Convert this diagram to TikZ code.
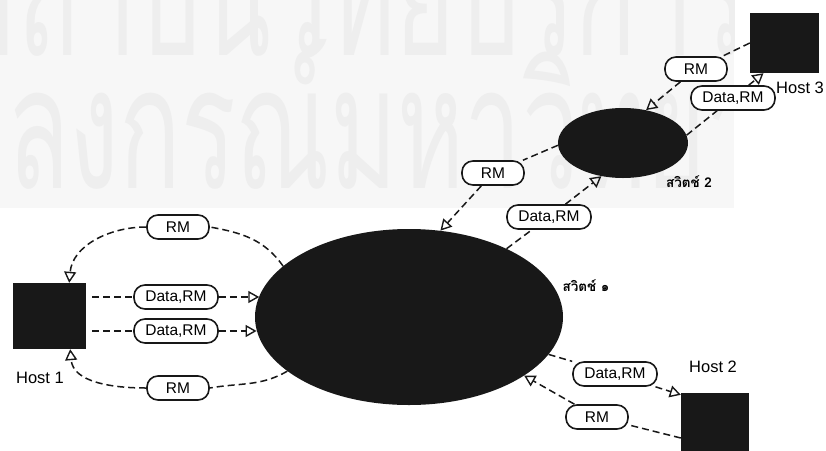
\documentclass[tikz,border=0pt]{standalone}
\usepackage{fontspec}
\usepackage{graphicx}
\setmainfont{Liberation Sans}
\newfontfamily\thaifont[Script=Thai]{Loma}
\usetikzlibrary{arrows.meta,shapes.geometric,calc}

\definecolor{ink}{RGB}{24,24,24}
\definecolor{wmbg}{RGB}{247,247,247}
\definecolor{wmtext}{RGB}{238,238,238}

\tikzset{
  blob/.style={ellipse, fill=ink, draw=none, inner sep=0pt},
  hostbox/.style={rectangle, fill=ink, draw=none, inner sep=0pt},
  pill/.style={draw=ink, fill=white, line width=1.6pt, rounded corners=11pt,
    minimum height=24pt, inner sep=0pt, font=\fontsize{15.5}{15.5}\selectfont},
  rmtag/.style={pill, minimum width=62pt},
  dtag/.style={pill, minimum width=84pt},
  link/.style={draw=ink, line width=1.5pt, dash pattern=on 7pt off 4pt},
  arr/.style={link, -{Triangle[open, length=11pt, width=12pt, line width=1.4pt]}},
  hostlbl/.style={font=\fontsize{16.5}{16.5}\selectfont, inner sep=0pt},
  swlbl/.style={font=\thaifont\bfseries\fontsize{13.5}{13.5}\selectfont, inner sep=0pt},
  wmark/.style={anchor=base west, inner sep=0pt, text=wmtext,
    font=\thaifont\fontsize{170}{170}\selectfont},
}

\begin{document}
\begin{tikzpicture}[x=1pt,y=1pt]
\useasboundingbox (0,0) rectangle (826,-450);
\clip (0,0) rectangle (826,-450);

% faint library stamp in the upper left
\begin{scope}
  \fill[wmbg] (0,0) rectangle (734,-208);
  \clip (0,0) rectangle (734,-208);
  \node[wmark] (wm1) at (-45,-55) {\scalebox{0.6}[1]{สถาบันวิทยบริการ}};
  \node[wmark] (wm2) at (-180,-188) {\scalebox{0.6}[1]{จุฬาลงกรณ์มหาวิทยาลัย}};
\end{scope}

% switches
\node[blob, minimum width=308pt, minimum height=176pt] (s1) at (409,-317) {};
\node[blob, minimum width=130pt, minimum height=70pt] (s2) at (623,-143) {};

% hosts
\node[hostbox, minimum width=73pt, minimum height=66pt] (h1) at (49.5,-316) {};
\node[hostbox, minimum width=68pt, minimum height=68pt] (h2) at (715,-427) {};
\node[hostbox, minimum width=69pt, minimum height=60pt] (h3) at (784.5,-43) {};

\node[hostlbl] (h1l) at (40,-378) {Host 1};
\node[hostlbl] (h2l) at (713,-367) {Host 2};
\node[hostlbl] (h3l) at (800,-88) {Host 3};
\node[swlbl] (s1l) at (586,-286) {สวิตช์ ๑};
\node[swlbl] (s2l) at (689,-182) {สวิตช์ 2};

% message tags
\node[rmtag] (rm1) at (178,-227) {RM};
\node[dtag]  (d1)  at (176,-297) {Data,RM};
\node[dtag]  (d2)  at (176,-331) {Data,RM};
\node[rmtag] (rm2) at (178,-388) {RM};
\node[rmtag] (rm3) at (696,-69) {RM};
\node[dtag]  (d3)  at (733,-98) {Data,RM};
\node[rmtag] (rm4) at (493,-173) {RM};
\node[dtag]  (d4)  at (549,-217) {Data,RM};
\node[dtag]  (d5)  at (615,-374) {Data,RM};
\node[rmtag] (rm5) at (597,-417) {RM};

% Host 1 <-> switch 1
\draw[link] (s1.158) to[out=125,in=-10] (rm1.east);
\draw[arr] (rm1.west) to[out=180,in=85] ([xshift=-17pt]h1.north east);
\draw[link] ([xshift=6pt]h1.east |- d1.west) -- (d1.west);
\draw[arr] (d1.east) -- (s1.172 |- d1.east);
\draw[link] ([xshift=6pt]h1.east |- d2.west) -- (d2.west);
\draw[arr] (d2.east) -- (s1.185 |- d2.east);
\draw[link] (s1.204) to[out=210,in=10] (rm2.east);
\draw[arr] (rm2.west) to[out=180,in=-85] ([xshift=-16pt]h1.south east);

% Host 3 <-> switch 2
\draw[link] (h3.west) -- (rm3);
\draw[arr] (rm3) -- (s2.55);
\draw[link] (s2.7) -- (d3);
\draw[arr] (d3) -- ([xshift=-21pt]h3.south);

% switch 2 <-> switch 1
\draw[link] (s2.182) -- (rm4);
\draw[arr] (rm4) -- (s1.70);
\draw[link] (s1.35) -- (d4);
\draw[arr] (d4) -- (s2.237);

% switch 1 <-> Host 2
\draw[link] (s1.345) -- (d5);
\draw[arr] (d5) -- ([yshift=-2pt]h2.north west);
\draw[link] ([yshift=-11pt]h2.west) -- (rm5);
\draw[arr] (rm5) -- (s1.333);
\end{tikzpicture}
\end{document}
